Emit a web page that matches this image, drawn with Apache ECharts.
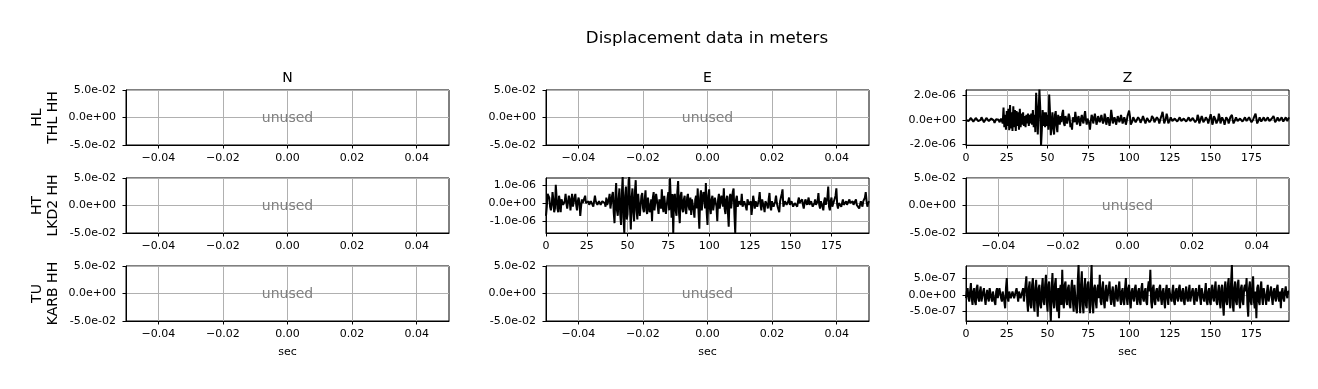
<!DOCTYPE html>
<html><head><meta charset="utf-8">
<script src="https://cdn.jsdelivr.net/npm/echarts@6/dist/echarts.min.js"></script>
<style>html,body{margin:0;padding:0;background:#fff}#c{width:1318px;height:389px}</style>
</head><body><div id="c"></div>
<script>
const TITLE = 'Displacement data in meters';
const COMPONENTS = ['N', 'E', 'Z'];
const STATIONS = ['HL\nTHL HH', 'HT\nLKD2 HH', 'TU\nKARB HH'];
const X_LABEL = 'sec';
const UNUSED_TEXT = 'unused';
const DT = 0.5;      // seconds between listed samples
const UNIT = 1e-7;   // trace values below are in units of 1e-7 m

const HL_THL_Z = [
 0,1.5,1,-1,-2.5,-1.5,1.5,2.5,1,-1.5, -2.5,-1,1.5,2.5,1,-1,-2,-2,0,2, 2.5,0.5,-2,-2.5,-1,1.5,2.5,1.5,-1,-2.5,
 -1.5,1,2.5,1.5,-0.5,-2.5,-2,0.5,2,2, 0,-2,-2,1,2.5,
 -3,10,-6,4,-8,7,-5,9,-8.5,12, -7,6,-9,11,-6,8,-9,7,-5,6, -8,9,-6,5,-4,6,-5,3,-6,4, -3,5,-5,4,-3,5,-4,8,-6,4,
 -10,22,8,-12,6,24.5,10,-21,-8,8, -5,6,-6,6,-5,4,-8,20.5,6,-12.5, -4,6,-7,-12,4,7,-5,-10,4,5, -4,3,
 -2,5,8,-3,-5,3,4,-3,-2,5, 2,-6,-3,-8,2,3,-2,6.5,1,-4, 1,3,-2,-5,1,4,-1,-3,3,7, 0,-4,1,2,-3,-8,-1,4,2,-3,
 1,5,1,-4,-1,3,0,-2,1,4, 0,-3,-1,5,2,-4,-1,2,-1,-5, 0,8,3,-3,-1,2,0,-4,-1,3, 1,-2,0,4,1,-3,-1,2,0,-4, -1,3,2,7.5,
 3,-4,-3,-1,2,3,1,-2,-3,-1, 2,2.5,0,-2.5,-2,1,3,2,-1,-3, -2,1.5,3,1,-2,-3,0,3,4,1, -2,-3,-1,2,3,0,-3,-2,2,4,
 6.5,2,-3,-4,1,5,2,-3,-2,0, 2,1.5,-1,-2,-1,1,2,1,-1.5,-2, 0,2,1.5,-1,-2,-1,1,2,0.5,-1.5, -2,0,2,1.5,-1,-2,-1,1.5,2.5,1,
 -2,-3,0,4,2,-3,-2.5,1,3,1, -2,-3,0,2,3,0,-3,-2,2,4.5, 1,-4,-2,3,4,0,-3,-4,0,5, 2,-3,-2,2,3,-1,-4,-1,2,3,
 0,-3,-1,2,3,4,0,-3,-2,0, 2,1.5,-1,-2,-1,1,2,0.5,-1.5,-2, 0,2,1,-1,-2,0,2,3,1,-2, -2,0,2,3,5,1,-3,-2,0,2,
 1,-1.5,-2,0,2,1,-1,-2,0,2, 2,-1,-2,-1,1,2,3,1,-2,-2, 0,2,1.5,-1,-2,0,2,1,-1.5,-2, 0,2,1.5,-1,0.5,2];

const HT_LKD2_E = [
 -7,-2, 5,6, 3,-2, -4,-1, 6,2, -5,-3, 10,3, -3,-5, 4,1, -5,2, 3,-1, -2,1, 5,0, -3,-4, 4,2, -4,1, 5,-2, -2,3, 5,-1, -4,1,
 3,0, -7,-2, 2,0, -1,1, 4,0, -1,0, 1,-1, -1,1, 1,0, -2,1, 4,1, 0,-1, -1,1, 1,-1, -2,1, 2,0, 0,-2, 3,-1, -2,2, 5,-3,
 -3,4, 6,-5, -11,3, 11,-4, -7,2, 8,-6, -12,5, 14.5,-8, -16.5,4, 9,-9, -6,7, 14.5,-3, -14.5,3, 8,-5, -10,6, 12.5,-4, -9,5, 6,-7, -6,4, 5.5,-3,
 -5,2, 7,-4, -6,3, 4,-5, -3,2, -10,3, 6,-4, -4,5, 5,-2, -6,2, 3,-3, 7.5,-2, -5,4, 4,-6, -7,3, 6,-4, 13.5,2, -8,5, -16.5,3, 5,-4,
 -7,6, 12,-5, -11,4, 6,-3, -5,2, 4,-4, -6,3, 5,-2, -4,3, -6.5,2, 3,-4, -8,2, 4,-3, 8,-5, -14,3, 7,-4, -5,6, 4,-3, 11,-5, -12,4,
 7.5,-3, -6,2, 4,-4, -5,3, 3,-2, -10,2, 5,-3, -4,4, 3,-2, 8,-3, -6,2, 4,-5, -13,3, 5,-3, -4,6, 8,-6, -16.5,2, 4,-2, -3,1, 2,-1,
 5,-2, -3,1, 2,-2, -4,2, 3,-1, -2,1, -6.5,-2, 4,1, -3,1, 2,-2, -3,2, 6,-1, -4,2, 3,-2, -5,1, 2,-1, -3,2, 5.5,-2, -4,1, 2,-2,
 -3,1, 4,0, -2,-3, -5,1, 3,5, 7.5,-2, -3,1, 2,-1, -2,1, 3,-1, -2,1, 2,-2, -3,0, 1,-1, -2,1, 3,0, -1,1, 2,-1, -3,0, 2,1,
 -1,0, 3,-1, -2,1, 1,-2, -3,0, 2,-1, -2,1, 5.5,-1, -3,1, 2,-2, -4,1, 3,-1, -2,3, 9,-2, -4,1, 3,-2, -3,1, 2,4, 8,-1, -3,0,
 1,-1, -2,0, 2,-1, -1,0, 1,-1, -2,0, 2,0, -1,1, 1,-1, -2,0, 2,-1, -1,0, -3,-1, 1,0, -2,1, 2,3, 6,1, -2,0, 1];

const TU_KARB_Z = [
 -1,1, 2,-1, -2,1, 3.5,-1, -3,1, 2,-2, -3,2, 3,-1, -2,1, 2.5,-2, -1.5,1, 2,-1, -3,0, 1.5,-1, -2,2, 2.5,-1, -2,1, 1,-2, -3,1, 2,-1,
 -1,2, 2.5,-1, -2,1, 1,-2, -4,2, 5,-1, -2,1, 1,-1, -1.5,1, 1,-1, -1,1, 2,0, -2,1, 1,-1, -1.5,1, 2,-2, -2,3, 5.5,-2, -5,2, 4,-3,
 -4,3, 5,-3, -5,2, 4.5,-2, -6.5,2, 3,-3, -4,2, 5,-2, -3,3, 6,-2, -5,3, 4,-3, -8,2, 6.5,-2, -4,3, 5,-3, -5,2, -7,1, 3,-3, 7.5,-2,
 -4,3, 4,-2, -3,2, 3,-3, -4,2, 4.5,-2, -5,3, 3,-4, -5.5,4, 9,-2, -5.5,3, 7,-3, -5.5,2, 5,-3, -4,3, 4,-2, -5.5,3, 9,-3, -5.5,2, 3,-2,
 -4,2, 3,-1, 6,-2, -3,2, 4,-2, -4,1, 3,-2, -2,2, 4,-1, -3,1, 2.5,-2, -3.5,1, 3,-1, -2,2, 4,-1, -3,1, 2,-2, -3,2, 5,-1, -3,2,
 3,-2, -4,1, 2,-1, -2,2, 3,-1, -3,1, 2,-2, -3,2, 3.5,-1, -2,1, 2,-2, -3,2, 4,1, 7.5,-2, -4,2, 3,-2, -3,1, 2,-1, -2,2, 3,-1,
 -3,1, 2,-2, -4,1, 3,-1, -3,2, 2,-1, -2,1, 3,-2, -3,1, 2,-1, -2,2, 3,-1, -2,1, 2,-2, -3,1, 2.5,-1, -2,1, 3,-2, -2,1, 2,-1,
 -3,1, 2,-2, -2.5,1, 3,-1, -3,2, 2,-1, -2,1, 3.5,-2, -3,1, 2,-2, -3,2, 3,-1, -2,2, 4,-2, -3,1, 3,-2, -4,2, 3,-3, -6.2,2, 4,-2,
 -3,3, 5,-2, -4,4, 9,-3, -5,2, 4,-2, -3,3, 4.5,-2, -4,2, 3,-2, -3,2, 3,1, 5,-3, -6.5,2, 4,-2, -3,3, 5.5,-2, -4,1, -7,2, 3,-2,
 -3,2, 4,-1, -3,2, 2.5,-1, -3,1, 3,-2, -2,1, 2.5,-1, -3,1, 2,-1, -2,2, 3,-1, -2,1, -4,1, 2,-1, -2,1, 2.5,0, -1,1, 1];

const UNUSED_X_TICKS = [-0.04, -0.02, 0, 0.02, 0.04];
const UNUSED_Y_TICKS = [-0.05, 0, 0.05];
const TIME_TICKS = [0, 25, 50, 75, 100, 125, 150, 175];
const HL_Z_Y_TICKS = [-2e-6, 0, 2e-6];
const HT_E_Y_TICKS = [-1e-6, 0, 1e-6];
const TU_Z_Y_TICKS = [-5e-7, 0, 5e-7];

// panel contents: [row][col] -> trace info or null (unused)
const PANELS = [
  [null, null, {data: HL_THL_Z, yMin: -2.05e-6, yMax: 2.42e-6, yTicks: HL_Z_Y_TICKS}],
  [null, {data: HT_LKD2_E, yMin: -1.64e-6, yMax: 1.37e-6, yTicks: HT_E_Y_TICKS}, null],
  [null, null, {data: TU_KARB_Z, yMin: -7.8e-7, yMax: 8.6e-7, yTicks: TU_Z_Y_TICKS}]
];
const T_MAX = 198;

// layout
const COL_LEFT = [126, 546, 966];
const ROW_TOP = [90, 178, 266];
const PW = 323, PH = 55;
const FONT = 'DejaVu Sans';

function sci(v) {
  if (Math.abs(v) < 1e-20) return '0.0e+00';
  const s = v.toExponential(1);
  const parts = s.split('e');
  const sign = parts[1][0] === '-' ? '-' : '+';
  let d = parts[1].replace(/[+-]/, '');
  if (d.length < 2) d = '0' + d;
  return parts[0] + 'e' + sign + d;
}
function fixed2(v) {
  const s = (Math.abs(v) < 1e-12 ? 0 : v).toFixed(2);
  return s.replace('-', '\u2212');
}

const grids = [], xAxes = [], yAxes = [], series = [], graphics = [];
const gridLine = {show: true, lineStyle: {color: '#b0b0b0', width: 1}};
const axLine = {show: true, onZero: false, lineStyle: {color: '#000', width: 1}};
const tick = (vals) => ({show: true, length: 3.5, lineStyle: {color: '#000', width: 1}, customValues: vals});

let idx = 0;
for (let r = 0; r < 3; r++) {
  for (let c = 0; c < 3; c++) {
    const p = PANELS[r][c];
    grids.push({left: COL_LEFT[c], top: ROW_TOP[r], width: PW, height: PH,
      show: true, borderColor: '#000', borderWidth: 1, backgroundColor: '#fff', containLabel: false});
    const xTicks = p ? TIME_TICKS : UNUSED_X_TICKS;
    const yTicks = p ? p.yTicks : UNUSED_Y_TICKS;
    xAxes.push({
      type: 'value', gridIndex: idx,
      min: p ? 0 : -0.05, max: p ? T_MAX : 0.05,
      axisLine: axLine, axisTick: tick(xTicks), splitLine: gridLine,
      axisLabel: {customValues: xTicks, margin: 8, color: '#000', fontFamily: FONT, fontSize: 11,
        formatter: p ? (v => String(Math.round(v))) : fixed2},
      name: r === 2 ? X_LABEL : '', nameLocation: 'middle', nameGap: 26,
      nameTextStyle: {color: '#000', fontFamily: FONT, fontSize: 11}
    });
    yAxes.push({
      type: 'value', gridIndex: idx,
      min: p ? p.yMin : -0.05, max: p ? p.yMax : 0.05,
      axisLine: axLine, axisTick: tick(yTicks), splitLine: gridLine,
      axisLabel: {customValues: yTicks, margin: 10, color: '#000', fontFamily: FONT, fontSize: 11, formatter: sci}
    });
    if (p) {
      series.push({
        type: 'line', xAxisIndex: idx, yAxisIndex: idx,
        data: p.data.map((v, i) => [i * DT, v * UNIT]),
        showSymbol: false, symbol: 'none', clip: true,
        lineStyle: {color: '#000', width: 2}, z: 3, silent: true
      });
    } else {
      graphics.push({type: 'text', x: COL_LEFT[c] + PW / 2, y: ROW_TOP[r] + PH / 2 + 1, z: 100,
        style: {text: UNUSED_TEXT, fill: '#808080', font: '14px "DejaVu Sans"', textAlign: 'center', textVerticalAlign: 'middle'}});
    }
    idx++;
  }
}
// column titles
COMPONENTS.forEach((t, c) => graphics.push({type: 'text', x: COL_LEFT[c] + PW / 2, y: 78,
  style: {text: t, fill: '#000', font: '14px "DejaVu Sans"', textAlign: 'center', textVerticalAlign: 'middle'}}));
// row labels
STATIONS.forEach((t, r) => graphics.push({type: 'text', x: 45, y: ROW_TOP[r] + PH / 2, rotation: Math.PI / 2,
  style: {text: t, fill: '#000', font: '14px "DejaVu Sans"', lineHeight: 16, textAlign: 'center', textVerticalAlign: 'middle'}}));
// main title
graphics.push({type: 'text', x: 707, y: 39,
  style: {text: TITLE, fill: '#000', font: '16.7px "DejaVu Sans"', textAlign: 'center', textVerticalAlign: 'middle'}});

const chart = echarts.init(document.getElementById('c'), null, {renderer: 'canvas'});
chart.setOption({
  animation: false, backgroundColor: '#fff',
  grid: grids, xAxis: xAxes, yAxis: yAxes, series: series, graphic: graphics
});
</script></body></html>
